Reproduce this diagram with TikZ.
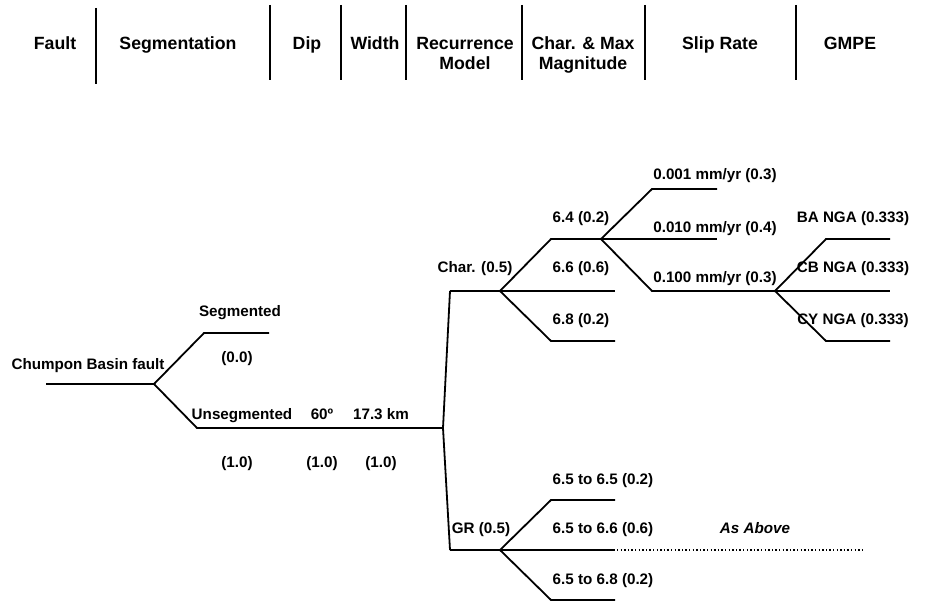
\documentclass[tikz,border=0pt]{standalone}
\usepackage{fontspec}
\setmainfont{Liberation Sans}
\begin{document}
\begin{tikzpicture}[x=1pt,y=-1pt,
  br/.style={line width=1.8pt, line join=miter},
  dv/.style={line width=2.8pt},
  lbl/.style={font=\fontsize{15.2}{18}\selectfont\bfseries, inner sep=0pt, text height=10.9pt, text depth=0pt},
  hdr/.style={font=\fontsize{17.7}{20.5}\selectfont\bfseries, inner sep=0pt, align=center, anchor=base},
  dots/.style={line width=1.8pt, dash pattern=on 1.4pt off 2.2pt}]
\useasboundingbox (0,0) rectangle (926,602);
% header
\node[hdr] (hF) at (55,49.5) {Fault};
\node[hdr] (hS) at (178,49.5) {Segmentation};
\node[hdr] (hD) at (307,49.5) {Dip};
\node[hdr] (hW) at (375,49.5) {Width};
\node[hdr] (hR) at (465,70) {Recurrence\\Model};
\node[hdr] (hC) at (583,70) {Char. \& Max\\Magnitude};
\node[hdr] (hSl) at (720,49.5) {Slip Rate};
\node[hdr] (hG) at (850,49.5) {GMPE};
\coordinate (d1a) at (96,8);  \coordinate (d1b) at (96,84);
\coordinate (d2a) at (270,5); \coordinate (d2b) at (270,80);
\coordinate (d3a) at (341,5); \coordinate (d3b) at (341,80);
\coordinate (d4a) at (406,5); \coordinate (d4b) at (406,80);
\coordinate (d5a) at (522,5); \coordinate (d5b) at (522,80);
\coordinate (d6a) at (645,5); \coordinate (d6b) at (645,80);
\coordinate (d7a) at (796,5); \coordinate (d7b) at (796,80);
\foreach \i in {1,...,7} \draw[dv] (d\i a) -- (d\i b);
% tree coordinates
\coordinate (r0) at (46,384);
\coordinate (r1) at (154,384);
\coordinate (s1) at (204,333); \coordinate (s2) at (269,333);
\coordinate (u1) at (197,428); \coordinate (u2) at (443,428);
\coordinate (c0) at (450,291); \coordinate (g0) at (450,550);
\coordinate (c1) at (500,291);
\coordinate (cU1) at (551,239); \coordinate (cU2) at (615,239);
\coordinate (cM) at (615,291);
\coordinate (cD1) at (551,341); \coordinate (cD2) at (615,341);
\coordinate (m1) at (601,239);
\coordinate (mU1) at (652,189); \coordinate (mU2) at (717,189);
\coordinate (mM) at (717,239);
\coordinate (mD1) at (652,291); \coordinate (sN) at (775,291);
\coordinate (nU1) at (826,239); \coordinate (nU2) at (890,239);
\coordinate (nM) at (890,291);
\coordinate (nD1) at (826,341); \coordinate (nD2) at (890,341);
\coordinate (g1) at (500,550);
\coordinate (gU1) at (551,500); \coordinate (gU2) at (615,500);
\coordinate (gM) at (615,550);
\coordinate (gD1) at (551,600); \coordinate (gD2) at (615,600);
\coordinate (dotA) at (617,550); \coordinate (dotB) at (862,550);
% branches
\draw[br] (r0) -- (r1);
\draw[br] (r1) -- (s1) -- (s2);
\draw[br] (r1) -- (u1) -- (u2);
\draw[br] (c0) -- (u2) -- (g0);
\draw[br] (c0) -- (c1);
\draw[br] (c1) -- (cU1) -- (cU2);
\draw[br] (c1) -- (cM);
\draw[br] (c1) -- (cD1) -- (cD2);
\draw[br] (m1) -- (mU1) -- (mU2);
\draw[br] (m1) -- (mM);
\draw[br] (m1) -- (mD1) -- (sN);
\draw[br] (sN) -- (nU1) -- (nU2);
\draw[br] (sN) -- (nM);
\draw[br] (sN) -- (nD1) -- (nD2);
\draw[br] (g0) -- (g1);
\draw[br] (g1) -- (gU1) -- (gU2);
\draw[br] (g1) -- (gM);
\draw[br] (g1) -- (gD1) -- (gD2);
\draw[dots] (dotA) -- (dotB);
% labels
\node[lbl] (tCB) at (88,364) {Chumpon Basin fault};
\node[lbl] (tSeg) at (240,311) {Segmented};
\node[lbl] (tSp) at (237,357) {(0.0)};
\node[lbl] (tUn) at (242,414) {Unsegmented};
\node[lbl] (tDip) at (322,414) {60º};
\node[lbl] (tWid) at (381,414) {17.3 km};
\node[lbl] (p1) at (237,462) {(1.0)};
\node[lbl] (p2) at (322,462) {(1.0)};
\node[lbl] (p3) at (381,462) {(1.0)};
\node[lbl] (tCh) at (475,267) {Char. (0.5)};
\node[lbl] (t64) at (581,217) {6.4 (0.2)};
\node[lbl] (t66) at (581,267) {6.6 (0.6)};
\node[lbl] (t68) at (581,319) {6.8 (0.2)};
\node[lbl] (sr1) at (715,174) {0.001 mm/yr (0.3)};
\node[lbl] (sr2) at (715,227) {0.010 mm/yr (0.4)};
\node[lbl] (sr3) at (715,277) {0.100 mm/yr (0.3)};
\node[lbl] (ba) at (853,217) {BA NGA (0.333)};
\node[lbl] (cb) at (853,267) {CB NGA (0.333)};
\node[lbl] (cy) at (853,319) {CY NGA (0.333)};
\node[lbl] (tGR) at (481,528) {GR (0.5)};
\node[lbl] (r65) at (603,479) {6.5 to 6.5 (0.2)};
\node[lbl] (r66) at (603,528) {6.5 to 6.6 (0.6)};
\node[lbl] (r68) at (603,579) {6.5 to 6.8 (0.2)};
\node[lbl, font=\fontsize{15.2}{18}\selectfont\bfseries\itshape] (asab) at (755,528) {As Above};
\end{tikzpicture}
\end{document}
